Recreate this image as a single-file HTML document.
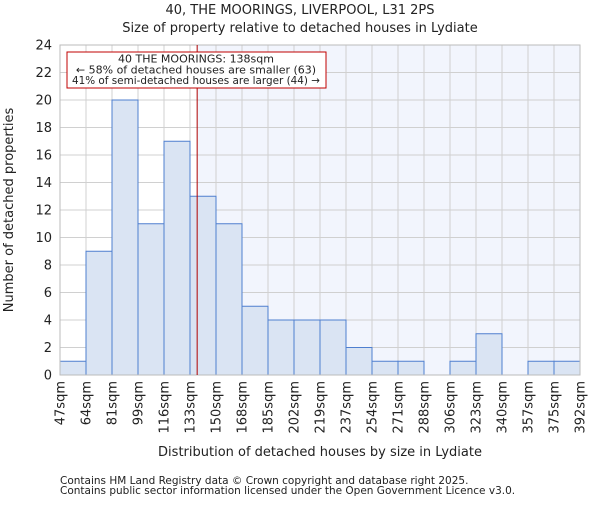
<!DOCTYPE html>
<html><head><meta charset="utf-8"><style>
body{margin:0;background:#fff;}
svg text{font-family:"DejaVu Sans","Liberation Sans",sans-serif;fill:#222;}
</style></head><body>
<svg width="600" height="500" xmlns="http://www.w3.org/2000/svg">
<g id="root"></g>
</svg>
<script>
const categories=["47sqm","64sqm","81sqm","99sqm","116sqm","133sqm","150sqm","168sqm","185sqm","202sqm","219sqm","237sqm","254sqm","271sqm","288sqm","306sqm","323sqm","340sqm","357sqm","375sqm","392sqm"];
const counts=[1,9,20,11,17,13,11,5,4,4,4,2,1,1,0,1,3,0,1,1];
const yTicks=[0,2,4,6,8,10,12,14,16,18,20,22,24];
const binStart=47, binEnd=392, propertySize=138;
const L=60,R=580,T=45,B=375,yMax=24;
const NS="http://www.w3.org/2000/svg";
const root=document.getElementById('root');
const xPix=i=>L+(R-L)*i/counts.length;
const xVal=v=>L+(R-L)*(v-binStart)/(binEnd-binStart);
const yPix=v=>B-(B-T)*v/yMax;
function mk(tag,attrs,parent){const e=document.createElementNS(NS,tag);for(const k in attrs)e.setAttribute(k,attrs[k]);(parent||root).appendChild(e);return e;}
const px=xVal(propertySize);
let bg=mk('rect',{x:px,y:T,width:R-px,height:B-T,fill:'#f2f5fd'});


for(let i=0;i<=counts.length;i++){let g=mk('line',{x1:xPix(i),x2:xPix(i),y1:T,y2:B,stroke:'#d0d0d0','stroke-width':1});

}
yTicks.forEach(t=>{let g=mk('line',{x1:L,x2:R,y1:yPix(t),y2:yPix(t),stroke:'#d0d0d0','stroke-width':1});


let tx=mk('text',{x:L-8,y:yPix(t)+4.5,'text-anchor':'end','font-size':13});tx.textContent=t;

});
counts.forEach((c,i)=>{if(c<=0)return;let r=mk('rect',{x:xPix(i),y:yPix(c),width:xPix(i+1)-xPix(i),height:B-yPix(c),fill:'#dae4f3',stroke:'#4f7fcf','stroke-width':1});

});
categories.forEach((c,i)=>{const x=xPix(i);let tx=mk('text',{transform:`translate(${x+4.5},${B+6}) rotate(-90)`,'text-anchor':'end','font-size':13});tx.textContent=c;

});
let ax=mk('rect',{x:L,y:T,width:R-L,height:B-T,fill:'none',stroke:'#bbb','stroke-width':1});


let pl=mk('line',{x1:px,x2:px,y1:T,y2:B,stroke:'#b00000','stroke-width':1});


let box=mk('rect',{x:67,y:52,width:259,height:36,fill:'#fff',stroke:'#c00000','stroke-width':1});


[["40 THE MOORINGS: 138sqm",62.5,null],["← 58% of detached houses are smaller (63)",73.5,null],["41% of semi-detached houses are larger (44) →",84,248]].forEach(([s,y,len])=>{const a={x:196,y:y,'text-anchor':'middle','font-size':11};if(len){a.textLength=len;a.lengthAdjust='spacingAndGlyphs';}let t=mk('text',a);t.textContent=s;

});
function txt(s,attrs,name){let t=mk('text',attrs);t.textContent=s;}
txt("40, THE MOORINGS, LIVERPOOL, L31 2PS",{x:300,y:14,'text-anchor':'middle','font-size':13},'chart-title');
txt("Size of property relative to detached houses in Lydiate",{x:300,y:32,'text-anchor':'middle','font-size':13},'chart-subtitle');
txt("Distribution of detached houses by size in Lydiate",{x:320,y:456,'text-anchor':'middle','font-size':13},'x-axis-title');
txt("Number of detached properties",{transform:'translate(13,210) rotate(-90)','text-anchor':'middle','font-size':13},'y-axis-title');
txt("Contains HM Land Registry data © Crown copyright and database right 2025.",{x:60,y:484,'font-size':10.5},'footer-line-1');
txt("Contains public sector information licensed under the Open Government Licence v3.0.",{x:60,y:494,'font-size':10.5},'footer-line-2');
</script>
</body></html>
